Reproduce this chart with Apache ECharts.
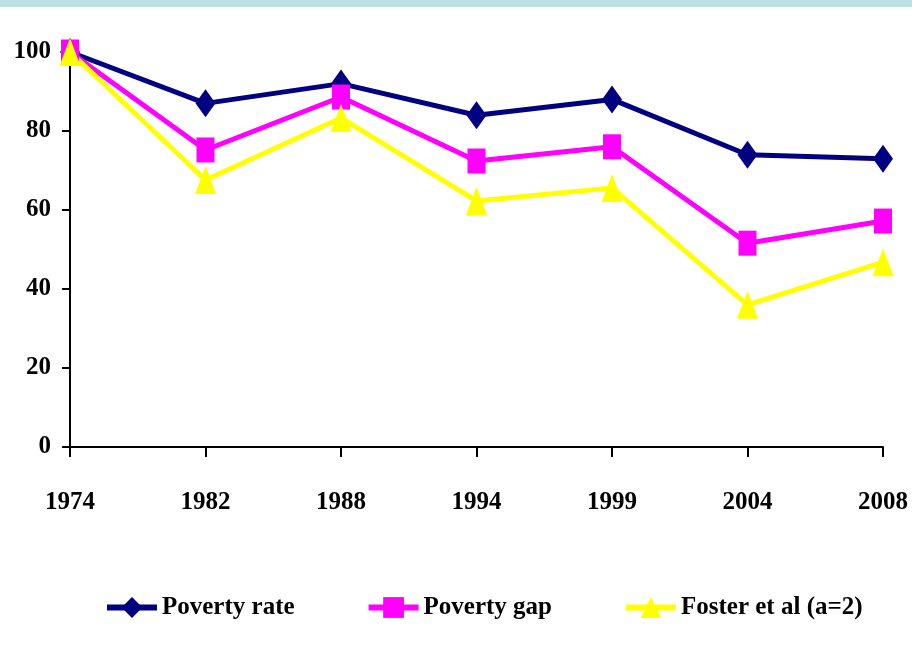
<!DOCTYPE html>
<html>
<head>
<meta charset="utf-8">
<script src="https://cdn.jsdelivr.net/npm/echarts@6/dist/echarts.min.js"></script>
<style>
  html, body { margin: 0; padding: 0; background: #fff; }
  #chart { width: 912px; height: 649px; }
</style>
</head>
<body>
<div id="chart"></div>
<script>
const years = ["1974", "1982", "1988", "1994", "1999", "2004", "2008"];
const povertyRate = [100, 87, 92, 84, 88, 74, 73];
const povertyGap = [100, 75.2, 88.6, 72.4, 76, 51.6, 57.2];
const foster = [100, 67.6, 83.3, 62.3, 65.6, 36, 46.8];

const font = "Liberation Serif";
const chart = echarts.init(document.getElementById("chart"));

function line(name, data, color, symbol, size) {
  return {
    name: name,
    type: "line",
    data: data,
    symbol: symbol,
    symbolSize: size,
    showAllSymbol: true,
    lineStyle: { color: color, width: 5 },
    itemStyle: { color: color },
    z: 2,
  };
}

chart.setOption({
  animation: false,
  backgroundColor: "#fff",
  graphic: [
    {
      type: "rect",
      shape: { x: 0, y: 0, width: 912, height: 7 },
      style: { fill: "#BCE0E4" },
    },
  ],
  grid: { left: 70, right: 29, top: 52, bottom: 202 },
  legend: {
    bottom: 24,
    left: 99,
    itemWidth: 50,
    itemHeight: 26,
    itemGap: 71,
    lineStyle: { width: 6 },
    textStyle: { fontFamily: font, fontWeight: "bold", fontSize: 25, color: "#000" },
    data: ["Poverty rate", "Poverty gap", "Foster et al (a=2)"],
  },
  xAxis: {
    type: "category",
    data: years,
    boundaryGap: false,
    axisLine: { lineStyle: { color: "#000", width: 2 } },
    axisTick: { show: true, length: 10, lineStyle: { color: "#000", width: 2 } },
    axisLabel: { margin: 43, fontFamily: font, fontWeight: "bold", fontSize: 25, color: "#000" },
  },
  yAxis: {
    type: "value",
    min: 0,
    max: 100,
    interval: 20,
    axisLine: { show: true, lineStyle: { color: "#000", width: 2 } },
    axisTick: { show: true, length: 8, lineStyle: { color: "#000", width: 2 } },
    splitLine: { show: false },
    axisLabel: { margin: 19, fontFamily: font, fontWeight: "bold", fontSize: 25, color: "#000" },
  },
  series: [
    line("Poverty rate", povertyRate, "#000080", "diamond", [20, 28]),
    line("Poverty gap", povertyGap, "#FF00FF", "rect", [18, 25]),
    line("Foster et al (a=2)", foster, "#FFFF00", "triangle", [21, 28]),
  ],
});
</script>
</body>
</html>
